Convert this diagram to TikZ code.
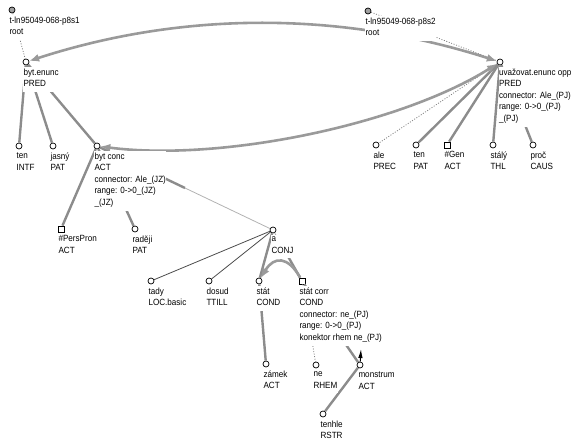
\documentclass[tikz,border=0pt]{standalone}
\usepackage{fontspec}
\setmainfont{Liberation Sans}[FakeStretch=0.9]
\usepackage{xcolor}
\usetikzlibrary{arrows.meta}

\definecolor{edgegray}{HTML}{8C8C8C}
\definecolor{arcgray}{HTML}{9A9A9A}
\definecolor{rootgray}{HTML}{A0A0A0}

\begin{document}
\begin{tikzpicture}[x=1pt, y=-1pt,
    % tree nodes
    tnode/.style={circle, draw=black, line width=0.7pt, fill=white, minimum size=6pt, inner sep=0pt},
    rootnode/.style={tnode, fill=rootgray},
    gennode/.style={rectangle, draw=black, line width=0.7pt, fill=white, minimum size=6pt, inner sep=0pt},
    lbl/.style={anchor=north west, align=left, fill=white, inner xsep=0.3pt, inner ysep=2pt,
        font=\fontsize{9}{11.5}\selectfont, execute at begin node=\strut, execute at end node=\strut},
    % connectors
    depline/.style={draw=edgegray, line width=2.4pt},
    thinline/.style={draw=black!70, line width=0.8pt},
    lightline/.style={draw=gray!60, line width=0.8pt},
    dotline/.style={draw=gray, line width=0.8pt, dash pattern=on 1pt off 1.6pt},
    coref/.style={draw=arcgray, line width=2.6pt, -{Latex[length=10pt,width=8pt]}},
    corefboth/.style={coref, {Latex[length=10pt,width=8pt]}-{Latex[length=10pt,width=8pt]}},
    textref/.style={draw=black, line width=1pt, -{Latex[length=9pt,width=4.5pt]}}
]
\useasboundingbox (0,0) rectangle (574,446);

% roots
\node[rootnode] (root1) at (12,10) {};
\node[rootnode] (root2) at (368,11) {};

% first sentence
\node[tnode] (bytenunc) at (26,62) {};
\node[tnode] (tenA) at (19,146) {};
\node[tnode] (jasny) at (53,146) {};
\node[tnode] (bytconc) at (97,146) {};
\node[gennode] (perspron) at (61,229) {};
\node[tnode] (radeji) at (135,229) {};
\node[tnode] (conj) at (273,230) {};
\node[tnode] (tady) at (151,281) {};
\node[tnode] (dosud) at (209,281) {};
\node[tnode] (stat) at (259,281) {};
\node[gennode] (statcorr) at (302,281) {};
\node[tnode] (zamek) at (266,364) {};
\node[tnode] (ne) at (316,365) {};
\node[tnode] (monstrum) at (360,365) {};
\node[tnode] (tenhle) at (323,414) {};

% second sentence
\node[tnode] (uvaz) at (500,62) {};
\node[tnode] (ale) at (376,145) {};
\node[tnode] (tenB) at (416,145) {};
\node[gennode] (gen) at (447,145) {};
\node[tnode] (staly) at (493,145) {};
\node[tnode] (proc) at (533,145) {};

% dependency edges
\draw[dotline] (root1) -- (bytenunc);
\draw[dotline] (root2) -- (uvaz);
\draw[depline] (bytenunc) -- (tenA);
\draw[depline] (bytenunc) -- (jasny);
\draw[depline] (bytenunc) -- (bytconc);
\draw[depline] (bytconc) -- (perspron);
\draw[depline] (bytconc) -- (radeji);
\path (bytconc) -- (conj) coordinate[pos=0.5] (mconj);
\draw[depline] (bytconc) -- (mconj);
\draw[lightline] (mconj) -- (conj);
\draw[thinline] (conj) -- (tady);
\draw[thinline] (conj) -- (dosud);
\draw[depline] (conj) -- (stat);
\path (conj) -- (statcorr) coordinate[pos=0.5] (mcorr);
\draw[lightline] (conj) -- (mcorr);
\draw[depline] (mcorr) -- (statcorr);
\draw[depline] (stat) -- (zamek);
\draw[dotline] (statcorr) -- (ne);
\draw[depline] (statcorr) -- (monstrum);
\draw[depline] (monstrum) -- (tenhle);
\draw[dotline] (uvaz) -- (ale);
\draw[depline] (uvaz) -- (tenB);
\draw[depline] (uvaz) -- (gen);
\draw[depline] (uvaz) -- (staly);
\draw[depline] (uvaz) -- (proc);

% coreference arrows
\draw[corefboth] (bytenunc) .. controls (183,11) and (341,11) .. (uvaz);
\draw[corefboth] (bytconc) .. controls (220,162) and (400,125) .. (uvaz);
\draw[coref] (statcorr) .. controls (288,256) and (274,256) .. (stat);
\coordinate (mref) at (361,349);
\draw[textref] (monstrum) -- (mref);

% labels
\node[lbl] (l-root1) at ([shift={(-3,4.5)}]root1) {t-ln95049-068-p8s1\\root};
\node[lbl] (l-root2) at ([shift={(-3,4.5)}]root2) {t-ln95049-068-p8s2\\root};
\node[lbl] (l-bytenunc) at ([shift={(-3,4.5)}]bytenunc) {byt.enunc\\PRED};
\node[lbl] (l-tenA) at ([shift={(-3,4.5)}]tenA) {ten\\INTF};
\node[lbl] (l-jasny) at ([shift={(-3,4.5)}]jasny) {jasný\\PAT};
\node[lbl] (l-bytconc) at ([shift={(-3,4.5)}]bytconc) {byt conc\\ACT\\connector: Ale\_(JZ)\\range: 0->0\_(JZ)\\\_(JZ)};
\node[lbl] (l-perspron) at ([shift={(-3,4.5)}]perspron) {\#PersPron\\ACT};
\node[lbl] (l-radeji) at ([shift={(-3,4.5)}]radeji) {raději\\PAT};
\node[lbl] (l-conj) at ([shift={(-2,4.5)}]conj) {a\\CONJ};
\node[lbl] (l-tady) at ([shift={(-3,4.5)}]tady) {tady\\LOC.basic};
\node[lbl] (l-dosud) at ([shift={(-3,4.5)}]dosud) {dosud\\TTILL};
\node[lbl] (l-stat) at ([shift={(-3,4.5)}]stat) {stát\\COND};
\node[lbl] (l-statcorr) at ([shift={(-3,4.5)}]statcorr) {stát corr\\COND\\connector: ne\_(PJ)\\range: 0->0\_(PJ)\\konektor rhem ne\_(PJ)};
\node[lbl] (l-zamek) at ([shift={(-3,4.5)}]zamek) {zámek\\ACT};
\node[lbl] (l-ne) at ([shift={(-3,4.5)}]ne) {ne\\RHEM};
\node[lbl] (l-monstrum) at ([shift={(-2,4.5)}]monstrum) {monstrum\\ACT};
\node[lbl] (l-tenhle) at ([shift={(-3,4.5)}]tenhle) {tenhle\\RSTR};
\node[lbl] (l-uvaz) at ([shift={(-1.5,4.5)}]uvaz) {uvažovat.enunc opp\\PRED\\connector: Ale\_(PJ)\\range: 0->0\_(PJ)\\\_(PJ)};
\node[lbl] (l-ale) at ([shift={(-3,4.5)}]ale) {ale\\PREC};
\node[lbl] (l-tenB) at ([shift={(-3,4.5)}]tenB) {ten\\PAT};
\node[lbl] (l-gen) at ([shift={(-3,4.5)}]gen) {\#Gen\\ACT};
\node[lbl] (l-staly) at ([shift={(-3,4.5)}]staly) {stálý\\THL};
\node[lbl] (l-proc) at ([shift={(-3,4.5)}]proc) {proč\\CAUS};

\end{tikzpicture}
\end{document}
